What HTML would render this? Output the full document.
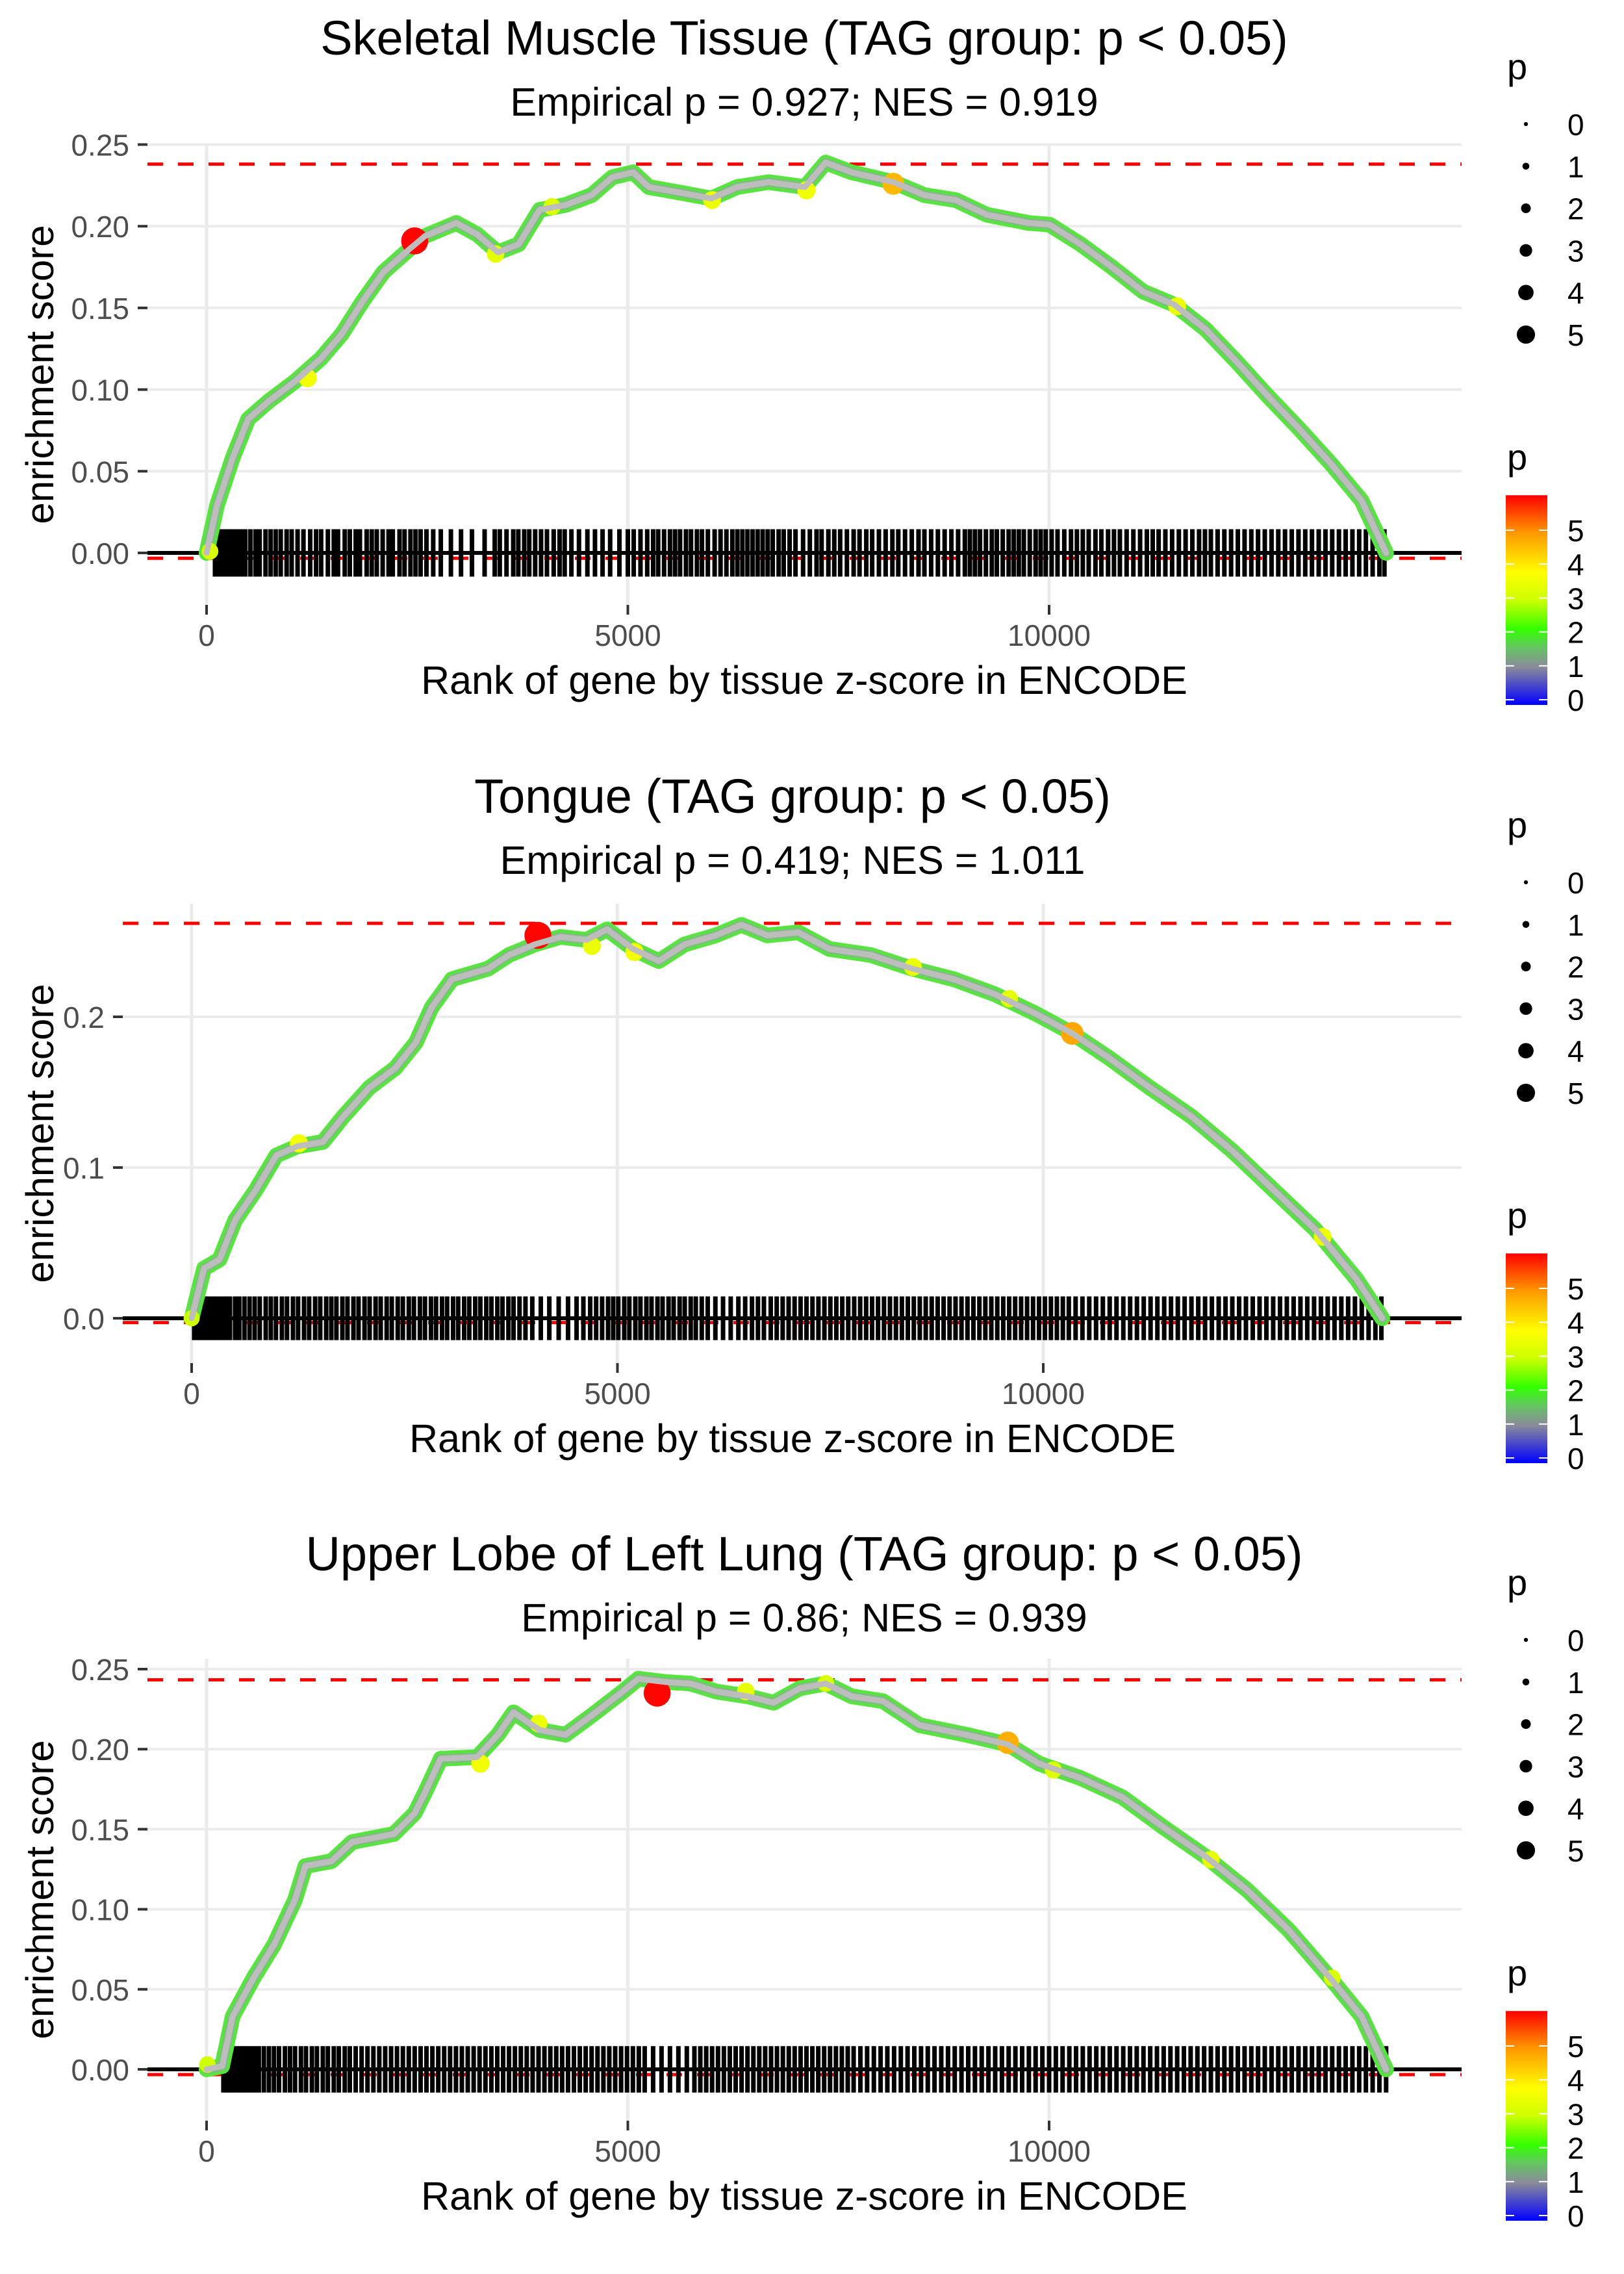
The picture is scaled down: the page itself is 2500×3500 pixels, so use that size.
<!DOCTYPE html>
<html><head><meta charset="utf-8"><style>
html,body{margin:0;padding:0;background:#fff;}
svg{display:block;font-family:"Liberation Sans",sans-serif;}
</style></head>
<body>
<svg id="fig" width="2500" height="3500" viewBox="0 0 2500 3500" xmlns="http://www.w3.org/2000/svg">
<defs>
<linearGradient id="pgrad" x1="0" y1="1" x2="0" y2="0">
<stop offset="0" stop-color="#0000ff"/>
<stop offset="0.18" stop-color="#8a8a9a"/>
<stop offset="0.27" stop-color="#66c266"/>
<stop offset="0.36" stop-color="#33ff00"/>
<stop offset="0.5" stop-color="#ccff00"/>
<stop offset="0.63" stop-color="#ffff00"/>
<stop offset="0.82" stop-color="#ff9900"/>
<stop offset="1" stop-color="#ff0000"/>
</linearGradient>
</defs>
</svg>
<script>
// ---------- Panel 1: Skeletal Muscle Tissue ----------
const p1Ranks = [0,123,309,494,741,1050,1358,1605,1852,2100,2408,2593,2964,3211,3458,3705,3952,4260,4569,4816,5063,5249,5681,5990,6298,6669,7101,7348,7657,8151,8522,8892,9263,9757,10004,10374,10745,11115,11486,11856,12227,12597,12968,13338,13709,14000];
const p1ES = [0,0.029,0.058,0.082,0.093,0.105,0.119,0.134,0.154,0.172,0.186,0.194,0.202,0.195,0.184,0.189,0.210,0.213,0.219,0.230,0.233,0.224,0.220,0.217,0.224,0.227,0.224,0.239,0.233,0.227,0.219,0.216,0.207,0.202,0.201,0.189,0.175,0.160,0.152,0.137,0.117,0.096,0.076,0.055,0.032,0];
const p1HiRanks = [2470,8151,1200,3430,4100,6000,7120,11520,40];
const p1HiES = [0.191,0.226,0.107,0.183,0.212,0.216,0.222,0.151,0.001];
const p1HiP = [6.0,4.6,3.6,3.4,3.3,3.5,3.6,3.5,3.2];
const p1Rug = [100,140,180,230,270,320,370,420,460,520,580,630,700,760,820,880,950,1010,1080,1150,1230,1300,1360,1440,1510,1560,1640,1700,1770,1820,1900,1960,2020,2090,2160,2210,2290,2350,2420,2480,2540,2610,2690,2780,2900,3020,3150,3300,3420,3480,3560,3640,3700,3770,3830,3900,3970,4040,4120,4190,4250,4330,4420,4520,4610,4700,4790,4900,5000,5070,5150,5230,5300,5360,5430,5500,5560,5620,5690,5750,5820,5880,5950,6030,6100,6170,6240,6300,6360,6420,6480,6540,6600,6660,6720,6790,6850,6920,6990,7080,7160,7240,7300,7380,7450,7520,7600,7680,7750,7830,7900,7980,8060,8140,8210,8290,8370,8450,8520,8600,8680,8760,8840,8920,9000,9060,9120,9180,9250,9320,9380,9450,9520,9580,9640,9700,9770,9840,9900,9960,10030,10100,10180,10260,10330,10400,10470,10550,10620,10700,10770,10840,10920,11000,11080,11160,11230,11300,11380,11460,11540,11620,11700,11780,11850,11920,12000,12080,12160,12240,12320,12400,12480,12560,12640,12720,12800,12880,12960,13040,13120,13200,13280,13360,13440,13520,13600,13680,13760,13840,13920,13980];
const p1YTicks = [0,0.05,0.10,0.15,0.20,0.25];
const p1YLabels = ["0.00","0.05","0.10","0.15","0.20","0.25"];
const p1MaxES = 0.238;
const p1MinES = -0.0025;

// ---------- Panel 2: Tongue ----------
const p2Ranks = [0,146,328,510,752,995,1238,1541,1784,2087,2391,2634,2816,3058,3483,3726,4029,4332,4636,4879,5182,5485,5789,6153,6456,6760,7124,7488,7973,8459,8944,9430,9915,10340,10765,11250,11736,12221,12706,13192,13677,13981];
const p2ES = [0,0.033,0.039,0.065,0.085,0.108,0.114,0.117,0.134,0.153,0.166,0.183,0.206,0.225,0.232,0.241,0.248,0.253,0.251,0.258,0.245,0.237,0.248,0.254,0.261,0.254,0.256,0.245,0.241,0.232,0.225,0.215,0.202,0.189,0.173,0.153,0.134,0.111,0.085,0.059,0.026,0];
const p2HiRanks = [4066,10340,1260,4700,5200,8470,9600,13280,0];
const p2HiES = [0.254,0.189,0.116,0.247,0.243,0.233,0.212,0.054,0.0];
const p2HiP = [6.0,4.8,3.6,3.5,3.6,3.5,3.4,3.5,3.0];
const p2Rug = [30,80,120,170,210,260,300,350,400,450,510,560,620,680,740,800,870,930,990,1060,1120,1190,1250,1320,1380,1450,1510,1580,1640,1700,1770,1830,1900,1960,2030,2090,2160,2220,2290,2350,2420,2480,2550,2610,2680,2740,2810,2870,2940,3000,3070,3130,3200,3260,3330,3390,3460,3520,3590,3650,3720,3780,3850,3920,4000,4100,4200,4310,4420,4520,4600,4680,4750,4820,4890,4950,5010,5080,5140,5210,5270,5340,5400,5470,5530,5600,5660,5730,5790,5860,5920,5990,6060,6150,6240,6330,6420,6500,6580,6650,6720,6800,6870,6940,7010,7080,7150,7220,7290,7360,7430,7500,7570,7640,7710,7780,7850,7920,7990,8060,8130,8200,8270,8340,8410,8480,8550,8620,8690,8760,8830,8900,8970,9040,9110,9180,9250,9320,9390,9460,9530,9600,9670,9740,9810,9880,9950,10020,10090,10160,10230,10300,10380,10460,10540,10620,10700,10780,10860,10940,11020,11100,11180,11260,11340,11420,11500,11580,11660,11740,11820,11900,11980,12060,12140,12220,12300,12380,12460,12540,12620,12700,12780,12860,12940,13020,13100,13180,13260,13340,13420,13500,13580,13660,13740,13820,13900,13970];
const p2YTicks = [0,0.1,0.2];
const p2YLabels = ["0.0","0.1","0.2"];
const p2MaxES = 0.262;
const p2MinES = -0.002;

// ---------- Panel 3: Upper Lobe of Left Lung ----------
const p3Ranks = [0,185,309,556,803,1050,1173,1482,1729,2223,2470,2594,2779,3211,3458,3643,3952,4260,4569,4940,5125,5434,5743,6051,6422,6731,7040,7348,7657,8028,8460,9016,9510,9880,10374,10868,11362,11856,12350,12844,13338,13709,14000];
const p3ES = [0,0.002,0.033,0.057,0.078,0.106,0.127,0.130,0.142,0.147,0.160,0.173,0.194,0.195,0.209,0.223,0.212,0.209,0.221,0.236,0.244,0.242,0.241,0.236,0.233,0.229,0.238,0.241,0.233,0.230,0.215,0.209,0.203,0.191,0.182,0.170,0.151,0.133,0.112,0.087,0.057,0.033,0];
const p3HiRanks = [5348,9510,3250,3940,6400,7350,10050,11920,13360,10];
const p3HiES = [0.235,0.204,0.191,0.216,0.236,0.241,0.187,0.131,0.057,0.003];
const p3HiP = [6.0,4.7,3.6,3.5,3.4,3.2,3.3,3.4,3.2,3.1];
const p3Rug = [200,240,290,330,380,420,470,520,570,620,680,740,800,860,930,990,1050,1120,1180,1250,1310,1380,1440,1510,1570,1640,1700,1770,1840,1910,1980,2050,2120,2190,2260,2330,2400,2470,2540,2610,2680,2750,2820,2890,2960,3030,3100,3170,3240,3310,3380,3450,3520,3590,3660,3730,3800,3870,3940,4010,4080,4150,4220,4290,4360,4430,4500,4570,4640,4710,4780,4850,4920,4990,5060,5130,5200,5300,5400,5500,5600,5700,5790,5860,5930,6000,6070,6140,6210,6280,6350,6420,6490,6560,6630,6700,6770,6840,6910,6980,7050,7120,7190,7260,7330,7400,7470,7540,7610,7680,7760,7840,7920,8000,8080,8160,8240,8320,8400,8480,8560,8640,8720,8800,8880,8960,9040,9120,9200,9280,9360,9440,9520,9600,9680,9760,9840,9920,10000,10080,10160,10240,10320,10400,10480,10560,10640,10720,10800,10880,10960,11040,11120,11200,11280,11360,11440,11520,11600,11680,11760,11840,11920,12000,12080,12160,12240,12320,12400,12480,12560,12640,12720,12800,12880,12960,13040,13120,13200,13280,13360,13440,13520,13600,13680,13760,13840,13920,14000];
const p3YTicks = [0,0.05,0.10,0.15,0.20,0.25];
const p3YLabels = ["0.00","0.05","0.10","0.15","0.20","0.25"];
const p3MaxES = 0.2433;
const p3MinES = -0.0025;

const xTicks = [0,5000,10000];
const xLabels = ["0","5000","10000"];
const titles = ["Skeletal Muscle Tissue (TAG group: p < 0.05)","Tongue (TAG group: p < 0.05)","Upper Lobe of Left Lung (TAG group: p < 0.05)"];
const subtitles = ["Empirical p = 0.927; NES = 0.919","Empirical p = 0.419; NES = 1.011","Empirical p = 0.86; NES = 0.939"];
const sizeLegendValues = [0,1,2,3,4,5];
const colorLegendValues = [0,1,2,3,4,5];
const pMax = 6.03;

const NS = "http://www.w3.org/2000/svg";
const svg = document.getElementById("fig");
function mk(tag, attrs, parent){
  const e = document.createElementNS(NS, tag);
  for (const k in attrs) e.setAttribute(k, attrs[k]);
  (parent||svg).appendChild(e);
  return e;
}
function pColor(p){
  const stops = [[0,[0,0,255]],[1.09,[138,138,154]],[1.63,[102,194,102]],[2.17,[51,255,0]],[3.0,[204,255,0]],[3.8,[255,255,0]],[4.95,[255,153,0]],[6.03,[255,0,0]]];
  for (let i=0;i<stops.length-1;i++){
    const a=stops[i], b=stops[i+1];
    if (p<=b[0]){ const t=Math.max(0,(p-a[0])/(b[0]-a[0]));
      const c=a[1].map((v,j)=>Math.round(v+(b[1][j]-v)*t)); return "rgb("+c.join(",")+")"; }
  }
  return "rgb(255,0,0)";
}
function pRadius(p){ return 4 + p*2.8; }

const cfgs = [
  {off:0, left:227, right:2250, top:222, bottom:931, x0:318, xs:0.1297, y0:851, ys:2514, cx:1238},
  {off:1167, left:189, right:2250, top:1391, bottom:2098, x0:295, xs:0.1311, y0:2029, ys:2320, cx:1220},
  {off:2333, left:227, right:2250, top:2553, bottom:3264, x0:318, xs:0.1297, y0:3185, ys:2464, cx:1238}
];
const panelData = [
  {ranks:p1Ranks, es:p1ES, hiR:p1HiRanks, hiE:p1HiES, hiP:p1HiP, rug:p1Rug, yt:p1YTicks, yl:p1YLabels, maxES:p1MaxES, minES:p1MinES},
  {ranks:p2Ranks, es:p2ES, hiR:p2HiRanks, hiE:p2HiES, hiP:p2HiP, rug:p2Rug, yt:p2YTicks, yl:p2YLabels, maxES:p2MaxES, minES:p2MinES},
  {ranks:p3Ranks, es:p3ES, hiR:p3HiRanks, hiE:p3HiES, hiP:p3HiP, rug:p3Rug, yt:p3YTicks, yl:p3YLabels, maxES:p3MaxES, minES:p3MinES}
];

panelData.forEach((d, i) => {
  const c = cfgs[i];
  const X = r => c.x0 + r*c.xs;
  const Y = v => c.y0 - v*c.ys;
  const g = mk("g", {});
  
  

  const t = mk("text", {x:c.cx, y:84+c.off, "text-anchor":"middle", "font-size":74, fill:"#000"}, g);
  t.textContent = titles[i];
  
  
  const st = mk("text", {x:c.cx, y:178+c.off, "text-anchor":"middle", "font-size":61, fill:"#000"}, g);
  st.textContent = subtitles[i];
  
  

  d.yt.forEach((v, k) => {
    const gl = mk("line", {x1:c.left, x2:c.right, y1:Y(v), y2:Y(v), stroke:"#ebebeb", "stroke-width":4}, g);
    
    
    const tk = mk("line", {x1:c.left-15, x2:c.left, y1:Y(v), y2:Y(v), stroke:"#333", "stroke-width":4}, g);
    
    
    const lb = mk("text", {x:c.left-28, y:Y(v)+17, "text-anchor":"end", "font-size":46, fill:"#4d4d4d"}, g);
    lb.textContent = d.yl[k];
    
    
  });
  xTicks.forEach((v, k) => {
    const gl = mk("line", {x1:X(v), x2:X(v), y1:c.top, y2:c.bottom, stroke:"#ebebeb", "stroke-width":5}, g);
    
    
    const tk = mk("line", {x1:X(v), x2:X(v), y1:c.bottom, y2:c.bottom+15, stroke:"#333", "stroke-width":4}, g);
    
    
    const lb = mk("text", {x:X(v), y:994+c.off, "text-anchor":"middle", "font-size":46, fill:"#4d4d4d"}, g);
    lb.textContent = xLabels[k];
    
    
  });

  const dmax = mk("line", {x1:c.left, x2:c.right, y1:Y(d.maxES), y2:Y(d.maxES), stroke:"#ff0000", "stroke-width":5, "stroke-dasharray":"24 23"}, g);
  
  
  const dmin = mk("line", {x1:c.left, x2:c.right, y1:Y(d.minES)+2, y2:Y(d.minES)+2, stroke:"#ff0000", "stroke-width":5, "stroke-dasharray":"24 23"}, g);
  
  

  const rugG = mk("g", {}, g);
  
  
  d.rug.forEach(r => {
    const ln = mk("line", {x1:X(r), x2:X(r), y1:Y(0.0145), y2:Y(-0.0145), stroke:"#000", "stroke-width":7}, rugG);
    
    
  });
  const zl = mk("line", {x1:c.left, x2:c.right, y1:Y(0), y2:Y(0), stroke:"#000", "stroke-width":6}, g);
  
  

  const pts = d.ranks.map((r, k) => X(r).toFixed(1) + "," + Y(d.es[k]).toFixed(1)).join(" ");
  const l1 = mk("polyline", {points:pts, fill:"none", stroke:"#55e63c", "stroke-width":24, "stroke-linejoin":"round", "stroke-linecap":"round"}, g);
  
  
  const l2 = mk("polyline", {points:pts, fill:"none", stroke:"#7cc07c", "stroke-width":15, "stroke-linejoin":"round", "stroke-linecap":"round"}, g);
  
  
  d.hiR.forEach((r, k) => {
    const cc = mk("circle", {cx:X(r), cy:Y(d.hiE[k]), r:pRadius(d.hiP[k]), fill:pColor(d.hiP[k])}, g);
    
    
  });
  const l3 = mk("polyline", {points:pts, fill:"none", stroke:"#bdbdbd", "stroke-width":9, "stroke-linejoin":"round", "stroke-linecap":"round"}, g);
  
  

  const xt = mk("text", {x:c.cx, y:1068+c.off, "text-anchor":"middle", "font-size":61, fill:"#000"}, g);
  xt.textContent = "Rank of gene by tissue z-score in ENCODE";
  
  
  const ycy = (c.top + c.bottom)/2;
  const yt = mk("text", {x:0, y:0, "text-anchor":"middle", "font-size":60, fill:"#000", transform:"translate(82," + ycy + ") rotate(-90)"}, g);
  yt.textContent = "enrichment score";
  
  

  const sl = mk("g", {}, g);
  
  
  const slt = mk("text", {x:2320, y:122+c.off, "font-size":56, fill:"#000"}, sl);
  slt.textContent = "p";
  
  
  sizeLegendValues.forEach((v, k) => {
    const cy = 191 + k*64.8 + c.off;
    const dot = mk("circle", {cx:2349, cy:cy, r:pRadius(v)*0.78, fill:"#000"}, sl);
    
    
    const lb = mk("text", {x:2413, y:cy+17, "font-size":46, fill:"#000"}, sl);
    lb.textContent = String(v);
    
    
  });

  const cl = mk("g", {}, g);
  
  
  const clt = mk("text", {x:2320, y:723+c.off, "font-size":56, fill:"#000"}, cl);
  clt.textContent = "p";
  
  
  const barBottom = 1077 + c.off, unit = 52.2;
  const bar = mk("rect", {x:2318, y:barBottom - pMax*unit, width:64, height:pMax*unit + 8, fill:"url(#pgrad)"}, cl);
  
  
  colorLegendValues.forEach(v => {
    const ty = barBottom - v*unit;
    const a = mk("line", {x1:2318, x2:2331, y1:ty, y2:ty, stroke:"#fff", "stroke-width":2}, cl);
    
    
    const b = mk("line", {x1:2369, x2:2382, y1:ty, y2:ty, stroke:"#fff", "stroke-width":2}, cl);
    
    
    const lb = mk("text", {x:2413, y:ty+17, "font-size":46, fill:"#000"}, cl);
    lb.textContent = String(v);
    
    
  });
});
</script>
</body></html>
